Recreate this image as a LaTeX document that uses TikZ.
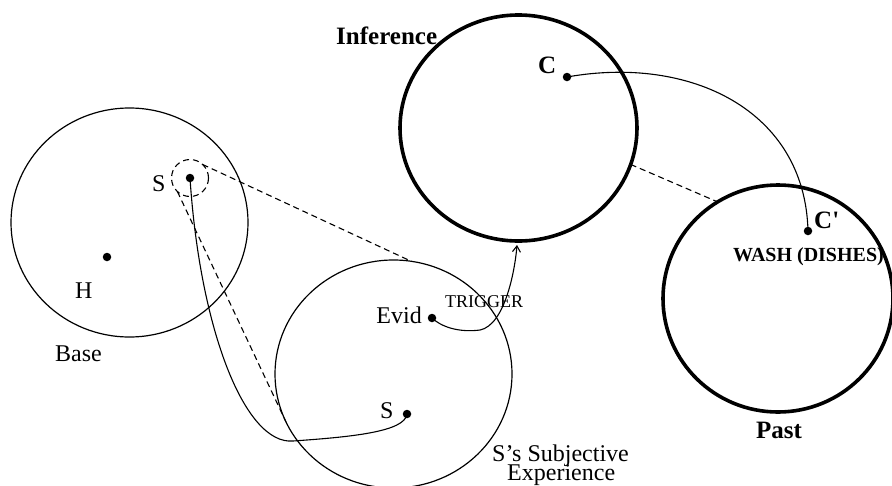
\documentclass[tikz,border=0pt]{standalone}
\usepackage{fontspec}
\setmainfont{Liberation Serif}
\usetikzlibrary{shapes.geometric,arrows.meta}
\begin{document}
\begin{tikzpicture}[x=1pt,y=-1pt,
  space/.style={draw,ellipse,line width=1.2pt,outer sep=0pt,inner sep=0pt},
  boldspace/.style={space,line width=3.6pt},
  dot/.style={circle,fill,inner sep=0pt,minimum size=8.5pt},
  lbl/.style={inner sep=0pt,font=\fontsize{24}{28}\selectfont},
  blbl/.style={inner sep=0pt,font=\fontsize{25}{29}\selectfont\bfseries},
  link/.style={line width=1.1pt},
  proj/.style={line width=1.1pt,dash pattern=on 6pt off 4pt}]
\useasboundingbox (0,0) rectangle (892,485);

% mental spaces
\node[space,minimum width=237pt,minimum height=229pt] (base) at (129.5,222.5) {};
\node[space,minimum width=237pt,minimum height=228pt] (subj) at (393.5,374) {};
\node[boldspace,minimum width=237pt,minimum height=226pt] (inf) at (518.5,128) {};
\node[boldspace,minimum width=230pt,minimum height=227pt] (past) at (778,298.5) {};

% elements
\node[dot] (sb) at (190,178) {};
\node[space,line width=1.1pt,dash pattern=on 6pt off 4pt,minimum size=37pt] (sfocus) at (190,178) {};
\node[dot] (h) at (107,257) {};
\node[dot] (evid) at (432,318) {};
\node[dot] (ss) at (407,414) {};
\node[dot] (c) at (567,77) {};
\node[dot] (cp) at (808,231) {};

% labels
\node[blbl,anchor=base west] (tinf) at (336,44) {Inference};
\node[blbl,anchor=base west] (tc) at (538,73) {C};
\node[lbl,anchor=base west] (tsb) at (152,191) {S};
\node[lbl,anchor=base west] (th) at (75,298) {H};
\node[lbl,anchor=base west] (tbase) at (55,361) {Base};
\node[lbl,anchor=base east] (tevid) at (422,323) {Evid};
\node[inner sep=0pt,anchor=base west,font=\fontsize{18}{20}\selectfont] (ttrig) at (445,307) {TRIGGER};
\node[lbl,anchor=base west] (tss) at (380,418) {S};
\node[lbl,anchor=base west] (tsubj1) at (492,461) {S’s Subjective};
\node[lbl,anchor=base west] (tsubj2) at (507,480) {Experience};
\node[blbl,anchor=base west] (tcp) at (814,228) {C\textquotesingle};
\node[inner sep=0pt,anchor=base west,font=\fontsize{20}{22}\selectfont\bfseries] (twash) at (733,261) {WASH (DISHES)};
\node[blbl,anchor=base west] (tpast) at (756,438) {Past};

% projections between spaces
\draw[proj] (sfocus.47) -- (subj.81);
\draw[proj] (sfocus.227) -- (subj.204);
\draw[proj] (inf.-18) -- (past.122);

% identity and trigger links
\coordinate (trig) at (517,245);
\draw[link] (sb.center) .. controls (200,330) and (245,445) .. (293,441)
  .. controls (350,437) and (405,432) .. (ss.center);
\draw[link,-{Straight Barb[length=6pt,width=8pt]}] (evid.center)
  .. controls (445,330) and (465,332) .. (480,330)
  .. controls (505,325) and (515,270) .. (trig);
\draw[link] (c.center) .. controls (690,55) and (805,110) .. (cp.center);
\end{tikzpicture}
\end{document}
